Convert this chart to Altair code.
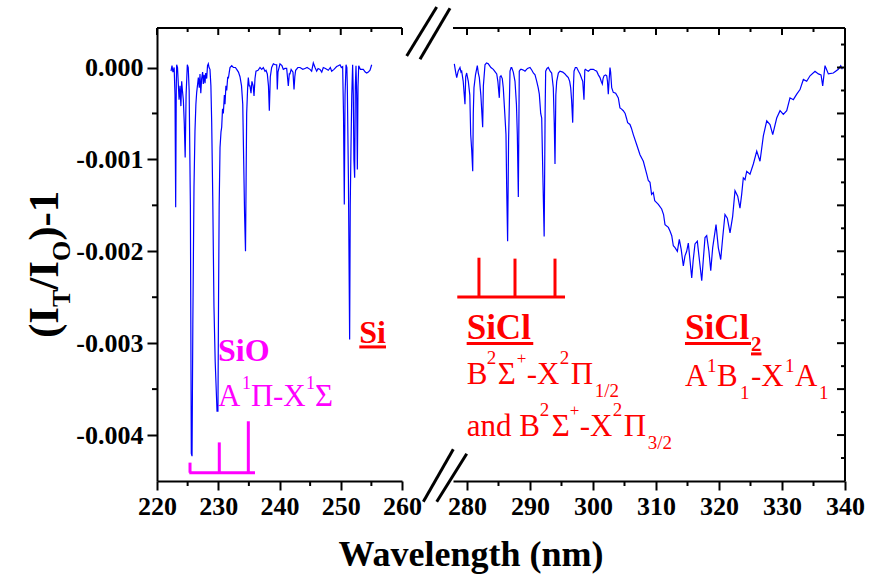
import altair as alt
import pandas as pd

FONT = "Liberation Serif"
BLUE, RED, MAG, BLACK = "#0000ff", "#ff0000", "#ff00ff", "#000000"

# ---------------- spectrum data ----------------
left_wl = [222.29, 222.45, 222.6, 222.8, 222.94, 223.05, 223.15, 223.21, 223.35, 223.48, 223.6, 223.76, 223.9,
           224.03, 224.15, 224.3, 224.45, 224.6, 224.75, 224.95, 225.1, 225.25, 225.45, 225.6, 225.72, 225.85,
           226.04, 226.2, 226.35, 226.48, 226.6, 226.75, 226.9, 227.02, 227.15, 227.29, 227.45, 227.56, 227.7,
           227.84, 227.95, 228.11, 228.25, 228.38, 228.5, 228.65, 228.8, 228.93, 229.1, 229.3, 229.5, 229.8,
           229.95, 230.05, 230.15, 230.29, 230.45, 230.56, 230.7, 230.83, 231.0, 231.1, 231.25, 231.38, 231.55,
           231.65, 231.8, 231.92, 232.2, 232.46, 232.8, 233.01, 233.3, 233.55, 233.8, 234.0, 234.15, 234.3,
           234.45, 234.55, 234.64, 234.8, 234.91, 235.05, 235.18, 235.35, 235.5, 235.7, 235.84, 236.0, 236.16,
           236.5, 236.82, 237.1, 237.36, 237.63, 237.8, 238.01, 238.2, 238.34, 238.5, 238.72, 239.0, 239.3,
           239.54, 239.64, 239.75, 240.08, 240.4, 240.62, 240.9, 241.17, 241.3, 241.44, 241.6, 241.71, 241.9,
           242.2, 242.37, 242.5, 242.64, 243.0, 243.35, 243.8, 244.16, 244.5, 244.98, 245.25, 245.52, 245.8,
           246.07, 246.3, 246.61, 246.9, 247.15, 247.5, 247.97, 248.3, 248.52, 248.9, 249.33, 249.6, 249.88,
           250.1, 250.31, 250.45, 250.58, 250.7, 250.86, 251.0, 251.07, 251.25, 251.45, 251.55, 251.67, 251.8,
           251.94, 252.05, 252.15, 252.27, 252.38, 252.49, 252.6, 252.71, 252.82, 252.93, 253.2, 253.68, 254.0,
           254.24, 254.5, 254.78, 255.05]
left_val = [-0.00004, 0.00002, -0.00005, 0.0, -0.0003, -0.00152, -0.0002, 0.00003, 0.0, -0.00018, -0.00035,
            -0.0002, -0.00042, -0.00015, -0.00025, -0.00035, -0.0006, -0.00098, -0.0003, 0.00003, 0.0, -0.00025,
            -0.0015, -0.0042, -0.00423, -0.0028, -0.0013, -0.00069, -0.0004, -0.00027, -0.0002, -0.00011,
            -0.00022, -0.00007, -0.00028, -0.00012, -0.00005, -0.00018, -0.00008, -0.00017, -0.00006, -0.00012,
            0.00002, 0.00004, 0.0, -0.00002, -0.0002, -0.0006, -0.0014, -0.0026, -0.0032, -0.00374, -0.00374,
            -0.0025, -0.0015, -0.00087, -0.0007, -0.00065, -0.00045, -0.0005, -0.0003, -0.0004, -0.0002,
            -0.00025, -0.0001, -0.00012, -0.00005, 0.0, 0.00002, 0.0, 0.0, -0.00002, -0.00005, -0.0001, -0.0002,
            -0.0004, -0.001, -0.0016, -0.002, -0.0012, -0.0005, -0.00022, -0.00011, -0.0002, -0.0002, -0.00028,
            -0.00015, -0.0002, -0.00031, -0.00012, -0.00004, -0.00003, 0.0, -0.00002, 0.0, -0.00004, -0.00003,
            -0.00007, -0.0002, -0.00047, -0.0001, 0.0, 0.00004, 0.00003, 0.00003, -0.00024, -0.00005, 0.00004,
            0.00002, -0.00002, -0.00001, -0.00001, -0.0001, -0.0002, -0.00007, -0.00007, -0.00002, -0.00005,
            -0.00024, -0.0001, -0.00003, 0.0, 0.0, -0.00002, -0.00001, 0.0, -0.00002, -0.00004, 0.00005, 0.0,
            -0.00004, -0.00001, -0.00002, -0.00005, 0.0, -0.00001, -0.00003, 0.0, -0.00004, -0.00002, 0.00001,
            0.00002, 0.00003, 0.0, 0.00001, -0.0005, -0.00149, -0.0003, 0.00003, 0.0, -0.0002, -0.0012,
            -0.00296, -0.0015, -0.00087, -0.0003, 0.00003, -0.0003, -0.001, -0.0012, -0.0002, 0.00002, -0.0003,
            -0.00111, -0.0002, 0.00002, -0.00002, -0.00002, -0.00005, -0.00006, -0.00005, -0.00003, 0.00003]

right_wl = [277.99, 278.2, 278.37, 278.6, 278.89, 279.05, 279.16, 279.4, 279.68, 279.8, 279.95, 280.21, 280.45,
            280.59, 280.75, 280.91, 281.0, 281.11, 281.35, 281.64, 281.8, 281.96, 282.2, 282.49, 282.6, 282.86,
            283.1, 283.38, 283.8, 284.18, 284.5, 284.72, 284.9, 285.13, 285.25, 285.4, 285.6, 285.76, 286.0,
            286.19, 286.3, 286.45, 286.6, 286.83, 287.0, 287.1, 287.35, 287.62, 287.85, 287.99, 288.15, 288.3,
            288.5, 288.68, 289.0, 289.21, 289.6, 290.0, 290.3, 290.53, 290.8, 291.07, 291.3, 291.48, 291.7,
            291.86, 292.05, 292.25, 292.4, 292.49, 292.7, 292.91, 293.2, 293.44, 293.7, 293.85, 293.97, 294.1,
            294.24, 294.5, 294.76, 295.2, 295.56, 295.8, 296.08, 296.3, 296.46, 296.6, 296.78, 296.9, 296.99,
            297.2, 297.41, 297.7, 297.94, 298.2, 298.37, 298.57, 298.7, 298.78, 299.0, 299.26, 299.6, 300.05,
            300.3, 300.59, 300.85, 301.11, 301.3, 301.48, 301.6, 301.75, 302.0, 302.18, 302.3, 302.43, 302.55,
            302.7, 302.8, 302.97, 303.22, 303.6, 304.02, 304.28, 304.5, 304.81, 305.1, 305.35, 305.5, 305.87,
            306.1, 306.4, 306.94, 307.46, 307.99, 308.53, 308.78, 309.05, 309.3, 309.57, 309.8, 310.1, 310.37,
            310.9, 311.2, 311.43, 311.96, 312.22, 312.5, 312.75, 313.02, 313.39, 313.7, 314.0, 314.34, 314.6,
            314.87, 315.13, 315.4, 315.67, 315.9, 316.19, 316.56, 316.9, 317.26, 317.5, 317.78, 318.05, 318.4,
            318.69, 319.0, 319.53, 319.89, 320.27, 320.59, 320.95, 321.32, 321.75, 322.17, 322.54, 322.97,
            323.33, 323.6, 323.86, 324.13, 324.4, 324.92, 325.45, 325.99, 326.51, 327.04, 327.58, 328.1, 328.53,
            329.16, 329.69, 330.21, 330.75, 331.27, 331.8, 332.34, 332.86, 333.39, 333.92, 334.45, 335.24,
            335.77, 336.2, 336.46, 336.83, 337.36, 338.15, 338.94, 339.32, 339.57]
right_val = [0.00004, -0.00005, -0.00011, -0.00004, 0.0, -0.00005, -0.00004, -0.00015, -0.0004, -0.0001,
             -0.00006, -0.00015, -0.0003, -0.00073, -0.0009, -0.00113, -0.0005, -0.00022, -0.00008, 0.00002,
             -0.00006, -0.00011, -0.0003, -0.00065, -0.0002, 0.00003, 0.00005, 0.00004, 0.0, -0.00002, -0.00005,
             -0.00007, -0.00015, -0.00033, -0.0001, -0.00009, -0.00012, -0.00022, -0.0005, -0.00073, -0.0013,
             -0.00189, -0.0008, -0.00004, 0.0, 0.0, -0.00005, -0.00015, -0.0004, -0.00073, -0.00141, -0.00004,
             -0.00002, -0.00002, -0.00003, -0.00004, -0.00001, 0.0, -0.00003, -0.00006, -0.00008, -0.00015,
             -0.00022, -0.00029, -0.0005, -0.00055, -0.0012, -0.00184, -0.0005, -0.00004, -0.00001, 0.0,
             -0.00004, -0.00006, -0.00022, -0.0006, -0.00105, -0.0003, -0.00015, -0.00006, -0.00004, -0.00005,
             -0.00007, -0.00009, -0.00011, -0.00015, -0.00022, -0.00035, -0.0006, -0.0002, -0.00004, 0.0, 0.0,
             -0.00004, -0.00007, -0.00012, -0.00015, -0.00035, -0.00003, -0.00002, -0.00003, -0.00004, -0.00002,
             -0.00002, -0.00003, -0.00004, -0.00008, -0.00011, -0.00015, -0.00018, -0.00012, -0.00009, -0.00008,
             -0.00009, -0.00015, -0.00029, -0.00015, 0.0, -0.00005, -0.00022, -0.00027, -0.00028, -0.00033,
             -0.00044, -0.00045, -0.00047, -0.0005, -0.00056, -0.0006, -0.00062, -0.00066, -0.00073, -0.00084,
             -0.00095, -0.00102, -0.00116, -0.00123, -0.00125, -0.00138, -0.00136, -0.00145, -0.00147, -0.00149,
             -0.00154, -0.0016, -0.00171, -0.00174, -0.00178, -0.00183, -0.00194, -0.00196, -0.002, -0.00187,
             -0.00198, -0.00216, -0.00205, -0.002, -0.00191, -0.0021, -0.00229, -0.0021, -0.00192, -0.00189,
             -0.0021, -0.00232, -0.0021, -0.00185, -0.00183, -0.002, -0.00221, -0.00196, -0.00171, -0.00196,
             -0.00209, -0.00185, -0.0016, -0.00164, -0.0018, -0.00162, -0.00134, -0.0014, -0.00153, -0.00138,
             -0.0012, -0.00122, -0.00113, -0.00116, -0.00105, -0.00091, -0.00102, -0.000745, -0.00058, -0.00062,
             -0.00073, -0.00055, -0.00047, -0.00051, -0.00047, -0.00033, -0.00035, -0.00029, -0.00024, -0.00013,
             -0.00015, -0.00009, -0.00004, -0.00007, -0.00008, -0.0002, 0.00002, -0.00007, -0.00006, -0.00002,
             0.00002, -0.00002]

# ---------------- axis ticks ----------------
x_ticks_left = [220, 230, 240, 250, 260]
x_minor_left = [225, 235, 245, 255]
x_ticks_right = [280, 290, 300, 310, 320, 330, 340]
x_minor_right = [285, 295, 305, 315, 325, 335]
y_ticks = [0.0, -0.001, -0.002, -0.003, -0.004]
y_minor_left = [-0.0005, -0.0015, -0.0025, -0.0035]
y_major_right = [0.0, -0.0005, -0.001, -0.0015, -0.002, -0.0025, -0.003, -0.0035, -0.004]
y_minor_right = [0.00025, -0.00025, -0.00075, -0.00125, -0.00175, -0.00225, -0.00275, -0.00325,
                 -0.00375, -0.00425]

# band-head markers
sio_bar = [225.27, 236.0, -0.00441]
sio_heads = [(225.39, -0.0043), (230.17, -0.00408), (234.91, -0.00385)]
sicl_bar = [278.46, 295.56, -0.002497]
sicl_heads = [(281.9, -0.00207), (287.62, -0.00208), (293.97, -0.00208)]

LW, RW, H = 245, 392, 453
XDOM_L = [220, 260]
XDOM_R = [277.78, 340]
YDOM = [-0.0045, 0.00043]

YS = alt.Scale(domain=YDOM, nice=False, zero=False)

axis_style = dict(title=None, grid=False, domainColor=BLACK, domainWidth=2, tickColor=BLACK, tickWidth=2,
                  labelColor=BLACK, labelFont=FONT, labelFontSize=26, labelFontWeight="bold",
                  labelFlush=False, labelOverlap=False)
ylab = "datum.value == 0 ? '0.000' : '-' + format(abs(datum.value), '.3f')"

AX_XL = alt.Axis(values=x_ticks_left, format="d", tickSize=9, labelPadding=3, **axis_style)
AX_XR = alt.Axis(values=x_ticks_right, format="d", tickSize=9, labelPadding=3, **axis_style)
AX_YL = alt.Axis(values=y_ticks, labelExpr=ylab, tickSize=10, labelPadding=4, **axis_style)

PANEL = {
    "L": dict(scale=alt.Scale(domain=XDOM_L, nice=False, zero=False), xaxis=AX_XL, yaxis=AX_YL),
    "R": dict(scale=alt.Scale(domain=XDOM_R, nice=False, zero=False), xaxis=AX_XR, yaxis=None),
}


def X(p, field):
    return alt.X(field, scale=PANEL[p]["scale"], axis=PANEL[p]["xaxis"])


def Y(p, field):
    return alt.Y(field, scale=YS, axis=PANEL[p]["yaxis"])


def df1(**kw):
    return pd.DataFrame({k: [v] for k, v in kw.items()})


def vticks(p, values, y0, y1):
    return alt.Chart(pd.DataFrame({"x": values})).mark_rule(color=BLACK, strokeWidth=2).encode(
        x=X(p, "x:Q"), y=alt.value(y0), y2=alt.value(y1))


def hticks(p, values, x0, x1):
    return alt.Chart(pd.DataFrame({"y": values})).mark_rule(color=BLACK, strokeWidth=2).encode(
        y=Y(p, "y:Q"), x=alt.value(x0), x2=alt.value(x1))


def piece(p, text, wl, val, dx, dy, size, weight, color):
    return alt.Chart(df1(x=wl, y=val)).mark_text(
        text=text, align="left", baseline="alphabetic", dx=dx, dy=dy, font=FONT, fontSize=size,
        fontWeight=weight, color=color).encode(x=X(p, "x:Q"), y=Y(p, "y:Q"))


def seg(p, x0, x1, y0, y1, color, width):
    return alt.Chart(df1(x=x0, x2=x1, y=y0, y2=y1)).mark_rule(color=color, strokeWidth=width).encode(
        x=X(p, "x:Q"), x2="x2:Q", y=Y(p, "y:Q"), y2="y2:Q")


def px_text(text, x, y, size, weight="bold", angle=0, align="left"):
    return alt.Chart(df1(k=0)).mark_text(
        text=text, angle=angle, align=align, baseline="alphabetic", font=FONT, fontSize=size,
        fontWeight=weight, color=BLACK).encode(x=alt.value(x), y=alt.value(y))


def px_line(x0, y0, x1, y1, width=3):
    return alt.Chart(df1(k=0)).mark_rule(color=BLACK, strokeWidth=width).encode(
        x=alt.value(x0), y=alt.value(y0), x2=alt.value(x1), y2=alt.value(y1))


# ---------------- left panel ----------------
left_line = alt.Chart(pd.DataFrame({"wl": left_wl, "val": left_val})).mark_line(
    color=BLUE, strokeWidth=1.2).encode(x=X("L", "wl:Q"), y=Y("L", "val:Q"))

a1 = -0.003684
left_layers = [
    left_line,
    vticks("L", x_minor_left, H, H + 5),
    vticks("L", x_ticks_left, 0, 7),
    vticks("L", x_minor_left, 0, 4),
    hticks("L", y_minor_left, 0, -5),
    alt.Chart(df1(k=0)).mark_rule(color=BLACK, strokeWidth=2).encode(
        x=alt.value(0), x2=alt.value(LW), y=alt.value(0)),
    seg("L", sio_bar[0], sio_bar[1], sio_bar[2], sio_bar[2], MAG, 3),
] + [seg("L", hx, hx, hy, sio_bar[2], MAG, 3) for hx, hy in sio_heads] + [
    piece("L", "SiO", 229.96, -0.003194, 0, 0, 32, "bold", MAG),
    piece("L", "A", 229.96, a1, 0, 0, 31, "normal", MAG),
    piece("L", "1", 229.96, a1, 24, -17, 18, "normal", MAG),
    piece("L", "\u03a0", 229.96, a1, 33, 0, 31, "normal", MAG),
    piece("L", "-X", 229.96, a1, 55, 0, 31, "normal", MAG),
    piece("L", "1", 229.96, a1, 88, -17, 18, "normal", MAG),
    piece("L", "\u03a3", 229.96, a1, 97, 0, 31, "normal", MAG),
    piece("L", "Si", 253.03, -0.002995, 0, 0, 32, "bold", RED),
    seg("L", 253.03, 257.39, -0.003041, -0.003041, RED, 3),
    # y-axis title (I_T/I_O)-1, rotated
    px_text("(I", -99, 310, 43, angle=270),
    px_text("T", -87, 279, 26, angle=270),
    px_text("/I", -99, 261.7, 43, angle=270),
    px_text("O", -87, 233.0, 26, angle=270),
    px_text(")-1", -99, 212.8, 43, angle=270),
]
left = alt.layer(*left_layers).properties(width=LW, height=H)

# ---------------- right panel ----------------
right_line = alt.Chart(pd.DataFrame({"wl": right_wl, "val": right_val})).mark_line(
    color=BLUE, strokeWidth=1.2).encode(x=X("R", "wl:Q"), y=Y("R", "val:Q"))

l1 = -0.003447
l2 = -0.004010
l3 = -0.003466
right_layers = [
    right_line,
    vticks("R", x_minor_right, H, H + 5),
    vticks("R", x_ticks_right, 0, 7),
    vticks("R", x_minor_right, 0, 4),
    hticks("R", y_major_right, RW, RW - 8),
    hticks("R", y_minor_right, RW, RW - 4),
    alt.Chart(df1(k=0)).mark_rule(color=BLACK, strokeWidth=2).encode(
        x=alt.value(0), x2=alt.value(RW), y=alt.value(0)),
    alt.Chart(df1(k=0)).mark_rule(color=BLACK, strokeWidth=2).encode(
        x=alt.value(RW), y=alt.value(0), y2=alt.value(H)),
    seg("R", sicl_bar[0], sicl_bar[1], sicl_bar[2], sicl_bar[2], RED, 3),
] + [seg("R", hx, hx, hy, sicl_bar[2], RED, 3) for hx, hy in sicl_heads] + [
    piece("R", "SiCl", 279.95, -0.002958, 0, 0, 35, "bold", RED),
    seg("R", 279.95, 290.52, -0.003003, -0.003003, RED, 3),
    piece("R", "B", 279.95, l1, 0, 0, 31, "normal", RED),
    piece("R", "2", 279.95, l1, 20, -20, 19, "normal", RED),
    piece("R", "\u03a3", 279.95, l1, 31, 0, 31, "normal", RED),
    piece("R", "+", 279.95, l1, 50, -20, 17, "normal", RED),
    piece("R", "-X", 279.95, l1, 60, 0, 31, "normal", RED),
    piece("R", "2", 279.95, l1, 93, -20, 19, "normal", RED),
    piece("R", "\u03a0", 279.95, l1, 104, 0, 31, "normal", RED),
    piece("R", "1/2", 279.95, l1, 128, 13, 19, "normal", RED),
    piece("R", "and B", 279.95, l2, 0, 0, 31, "normal", RED),
    piece("R", "2", 279.95, l2, 73, -20, 19, "normal", RED),
    piece("R", "\u03a3", 279.95, l2, 85, 0, 31, "normal", RED),
    piece("R", "+", 279.95, l2, 103, -20, 17, "normal", RED),
    piece("R", "-X", 279.95, l2, 113, 0, 31, "normal", RED),
    piece("R", "2", 279.95, l2, 146, -20, 19, "normal", RED),
    piece("R", "\u03a0", 279.95, l2, 157, 0, 31, "normal", RED),
    piece("R", "3/2", 279.95, l2, 181, 13, 19, "normal", RED),
    piece("R", "SiCl", 314.6, -0.002958, 0, 0, 35, "bold", RED),
    piece("R", "2", 314.6, -0.002958, 66, 12, 21, "bold", RED),
    seg("R", 314.6, 325.08, -0.003003, -0.003003, RED, 3),
    seg("R", 325.08, 326.75, -0.003117, -0.003117, RED, 3),
    piece("R", "A", 314.6, l3, 0, 0, 31, "normal", RED),
    piece("R", "1", 314.6, l3, 22, -14, 19, "normal", RED),
    piece("R", "B", 314.6, l3, 32, 0, 31, "normal", RED),
    piece("R", "1", 314.6, l3, 55, 13, 19, "normal", RED),
    piece("R", "-X", 314.6, l3, 66, 0, 31, "normal", RED),
    piece("R", "1", 314.6, l3, 100, -14, 19, "normal", RED),
    piece("R", "A", 314.6, l3, 110, 0, 31, "normal", RED),
    piece("R", "1", 314.6, l3, 134, 13, 19, "normal", RED),
    # x-axis title
    px_text("Wavelength (nm)", 18, 538, 36, align="center"),
    # axis break marks
    px_line(-46.3, 28, -16.3, -21),
    px_line(-33, 31.3, -3, -19.7),
    px_line(-29.7, 473.7, 0.3, 421.3),
    px_line(-16.3, 473.7, 13.7, 425.7),
]
right = alt.layer(*right_layers).properties(width=RW, height=H)

chart = alt.hconcat(left, right, spacing=51, bounds="flush").resolve_scale(
    x="independent", y="independent").properties(
    padding={"left": 24, "top": 5, "right": 5, "bottom": 5}, background="white").configure_view(stroke=None)

chart.save("out.html", embed_options={"renderer": "svg", "actions": False})
